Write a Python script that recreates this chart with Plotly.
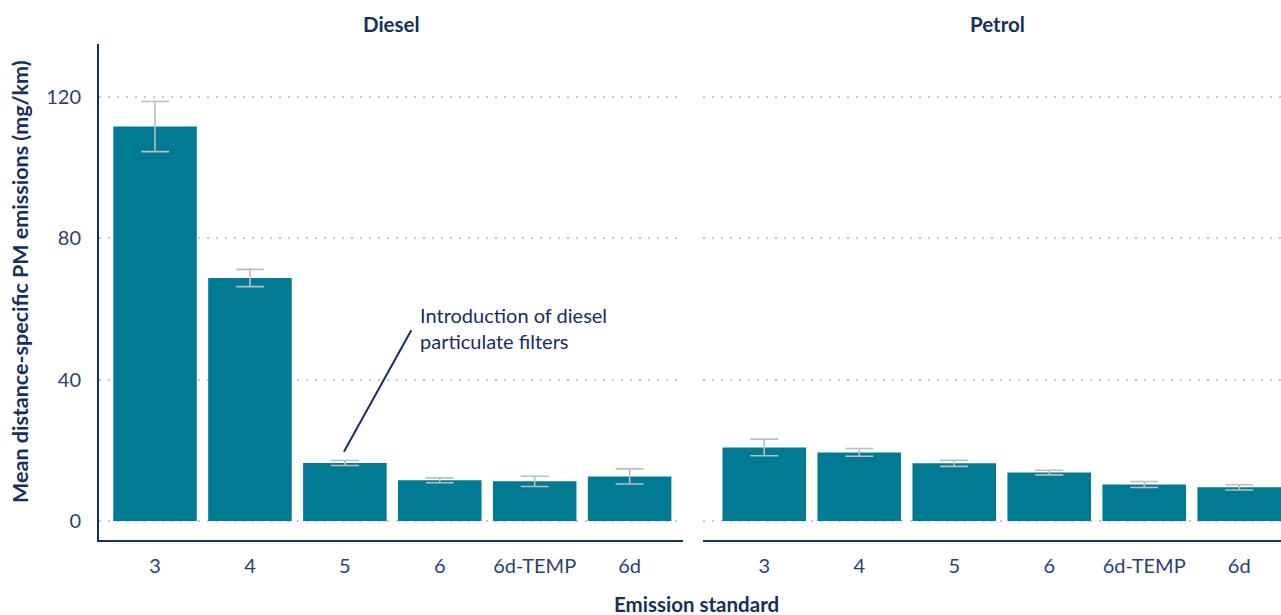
import plotly.graph_objects as go

# Emission standards (Euro classes)
standards = ["3", "4", "5", "6", "6d-TEMP", "6d"]

# Mean distance-specific PM emissions (mg/km) and error half-widths
diesel_pm = [111.7, 68.8, 16.4, 11.5, 11.2, 12.6]
diesel_err = [7.1, 2.45, 0.7, 0.7, 1.45, 2.15]
petrol_pm = [20.8, 19.4, 16.3, 13.7, 10.3, 9.5]
petrol_err = [2.35, 1.1, 0.85, 0.65, 0.85, 0.75]

fuel_titles = ["Diesel", "Petrol"]
annotation_text = "Introduction of diesel<br>particulate filters"

NAVY = "#15305a"
TICK = "#2a4270"
BAR = "#017a94"
ERR = "#bdbdbd"
GRID = "#c9c9c9"
FONT = "Lato, 'Open Sans', sans-serif"

fig = go.Figure()

for data, err, xa in [(diesel_pm, diesel_err, "x"), (petrol_pm, petrol_err, "x2")]:
    fig.add_trace(go.Bar(
        x=standards, y=data, xaxis=xa, yaxis="y" if xa == "x" else "y2",
        width=0.88, marker=dict(color=BAR, line=dict(width=0)),
        error_y=dict(type="data", array=err, visible=True,
                     color=ERR, thickness=1.6, width=14),
        showlegend=False, hoverinfo="x+y",
    ))

yrange = [-5.4, 135]
ydomain = [0.122, 0.928]
common_y = dict(range=yrange, domain=ydomain, tickvals=[0, 40, 80, 120],
                showgrid=True, gridcolor=GRID, griddash="2px,7px", gridwidth=1.5,
                zeroline=False, fixedrange=True)
common_x = dict(type="category", categoryorder="array", categoryarray=standards,
                showgrid=False, zeroline=False, showline=True, linecolor=NAVY,
                linewidth=2, ticks="", ticklabelstandoff=7,
                tickfont=dict(family=FONT, size=20, color=TICK))

fig.update_layout(
    width=1281, height=615,
    margin=dict(l=0, r=0, t=0, b=0),
    paper_bgcolor="white", plot_bgcolor="white",
    font=dict(family=FONT, color=NAVY),
    xaxis=dict(domain=[0.0773, 0.533], range=[-0.59, 5.56], anchor="y", **common_x),
    xaxis2=dict(domain=[0.549, 1.0], range=[-0.642, 5.44], anchor="y2", **common_x),
    yaxis=dict(anchor="x", showline=True, linecolor=NAVY, linewidth=2,
               ticks="", ticklabelstandoff=12,
               tickfont=dict(family=FONT, size=20, color=TICK), **common_y),
    yaxis2=dict(anchor="x2", showline=False, showticklabels=False, **common_y),
    bargap=0.12,
)

# Facet titles
for title, xc in zip(fuel_titles, [391 / 1281, 997.5 / 1281]):
    fig.add_annotation(text=f"<b>{title}</b>", x=xc, y=1 - 24 / 615,
                       xref="paper", yref="paper", showarrow=False,
                       xanchor="center", yanchor="middle",
                       font=dict(family=FONT, size=20.5, color=NAVY))

# Axis titles
fig.add_annotation(text="<b>Emission standard</b>", x=696 / 1281, y=1 - 604 / 615,
                   xref="paper", yref="paper", showarrow=False,
                   xanchor="center", yanchor="middle",
                   font=dict(family=FONT, size=20.5, color=NAVY))
fig.add_annotation(text="<b>Mean distance-specific PM emissions (mg/km)</b>",
                   x=20 / 1281, y=1 - 282 / 615, xref="paper", yref="paper",
                   showarrow=False, textangle=-90, xanchor="center", yanchor="middle",
                   font=dict(family=FONT, size=21.5, color=NAVY))

# Callout for diesel particulate filters (category index 2 = Euro 5)
fig.add_shape(type="line", xref="x", yref="y", x0=1.99, y0=19.6, x1=2.70, y1=54.0,
              line=dict(color=NAVY, width=2))
fig.add_annotation(text=annotation_text, x=2.77, y=54.6, xref="x", yref="y",
                   xanchor="left", yanchor="middle", align="left", showarrow=False,
                   font=dict(family=FONT, size=20, color=NAVY))

fig.write_html("out.html")
